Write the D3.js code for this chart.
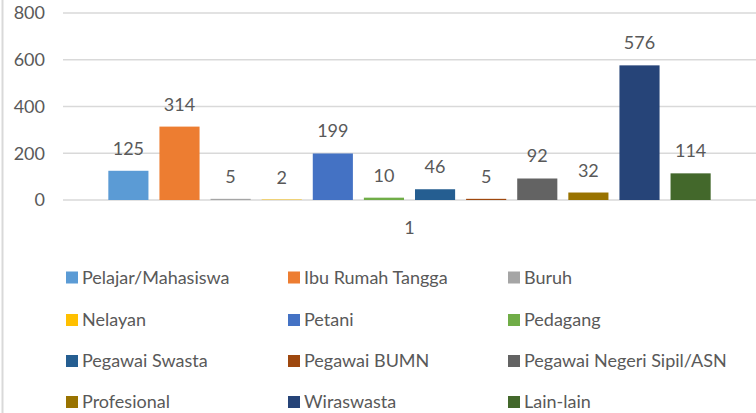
<html>
<script src="https://d3js.org/d3.v7.min.js"></script>
<body style="margin:0;background:#fff">
<svg width="756" height="413"></svg>
<script>
// ------------------------ data ------------------------ //
const categories = ["1"];
const series = ["Pelajar/Mahasiswa", "Ibu Rumah Tangga", "Buruh", "Nelayan", "Petani", "Pedagang",
                "Pegawai Swasta", "Pegawai BUMN", "Pegawai Negeri Sipil/ASN", "Profesional", "Wiraswasta", "Lain-lain"];
const values = [125, 314, 5, 2, 199, 10, 46, 5, 92, 32, 576, 114];
const colors = ["#5B9BD5", "#ED7D31", "#A5A5A5", "#FFC000", "#4472C4", "#70AD47",
                "#255E91", "#9E480E", "#636363", "#997300", "#264478", "#43682B"];
const yTicks = [0, 200, 400, 600, 800];

// ------------------------ setup ------------------------ //
const svg = d3.select("svg");
const font = "Lato, 'Open Sans', sans-serif";
const txt = "#595959";
const fs = 18;

// left border of the chart area
svg.append("line")
  .attr("x1", 2.5).attr("x2", 2.5).attr("y1", 0).attr("y2", 413)
  .style("stroke", "#d9d9d9").style("stroke-width", 2);

const plotL = 63, plotR = 756, plotT = 13, plotB = 200;

var y = d3.scaleLinear().domain([0, 800]).range([plotB, plotT]);
var x0 = d3.scaleBand().domain(categories).range([plotL, plotR]).paddingOuter(0.055);
var x1 = d3.scaleBand().domain(series).range([0, x0.bandwidth()]).padding(0.215);

// ------------------------ grid + y axis ------------------------ //
svg.append("g").selectAll("line")
  .data(yTicks).enter().append("line")
  .attr("x1", plotL).attr("x2", plotR)
  .attr("y1", d => y(d)).attr("y2", d => y(d))
  .style("stroke", "#d9d9d9").style("stroke-width", 1.3);

svg.append("g").selectAll("text")
  .data(yTicks).enter().append("text")
  .attr("x", 45).attr("y", d => y(d))
  .attr("dy", "0.35em")
  .attr("text-anchor", "end")
  .style("font-family", font).style("font-size", fs).style("fill", txt)
  .text(d => d);

// category label
svg.append("g").selectAll("text")
  .data(categories).enter().append("text")
  .attr("x", d => x0(d) + x0.bandwidth() / 2).attr("y", 228)
  .attr("dy", "0.35em")
  .attr("text-anchor", "middle")
  .style("font-family", font).style("font-size", fs).style("fill", txt)
  .text(d => d);

// ------------------------ bars ------------------------ //
const g = svg.append("g").attr("transform", "translate(" + x0(categories[0]) + ",0)");

g.selectAll("rect")
  .data(series).enter().append("rect")
  .attr("x", d => x1(d))
  .attr("width", x1.bandwidth())
  .attr("y", (d, i) => y(values[i]))
  .attr("height", (d, i) => y(0) - y(values[i]))
  .style("fill", (d, i) => colors[i]);

g.selectAll("text")
  .data(series).enter().append("text")
  .attr("x", d => x1(d) + x1.bandwidth() / 2)
  .attr("y", (d, i) => y(values[i]) - 16)
  .attr("text-anchor", "middle")
  .style("font-family", font).style("font-size", fs).style("fill", txt)
  .text((d, i) => values[i]);

// ------------------------ legend ------------------------ //
const colX = [66, 288, 508];
const rowY = [277.5, 320, 361, 402];
const leg = svg.append("g").selectAll("g")
  .data(series).enter().append("g")
  .attr("transform", (d, i) => "translate(" + colX[i % 3] + "," + rowY[Math.floor(i / 3)] + ")");

leg.append("rect")
  .attr("x", 0).attr("y", -6).attr("width", 12).attr("height", 12)
  .style("fill", (d, i) => colors[i]);

leg.append("text")
  .attr("x", 16).attr("y", 0).attr("dy", "0.35em")
  .style("font-family", font).style("font-size", fs).style("fill", txt)
  .text(d => d);
</script>
</body>
</html>
